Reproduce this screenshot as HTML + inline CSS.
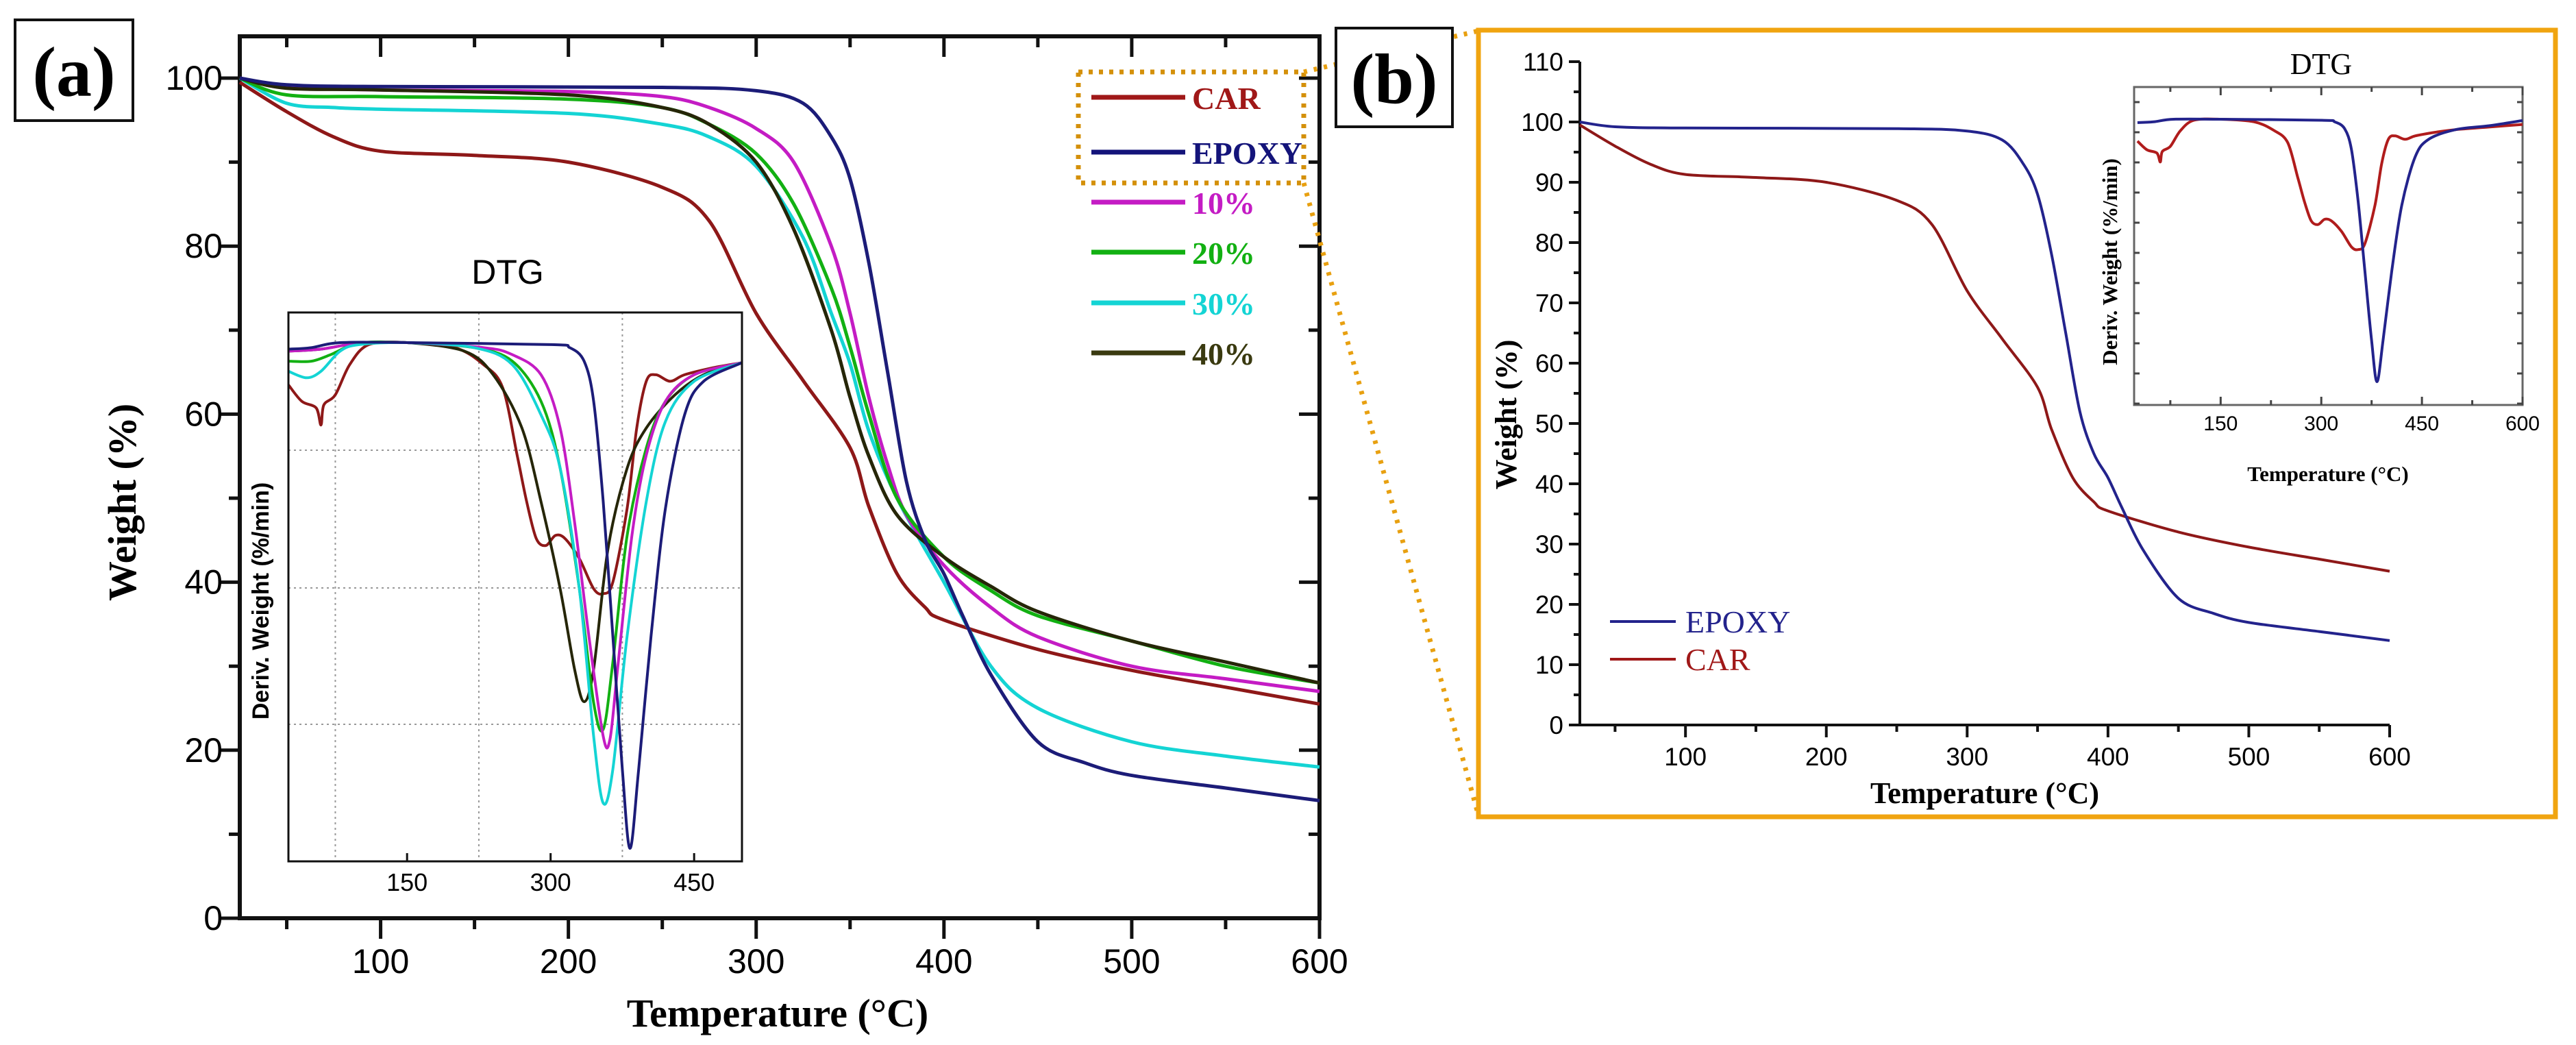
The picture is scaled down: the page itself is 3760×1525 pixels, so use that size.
<!DOCTYPE html>
<html><head><meta charset="utf-8"><style>
html,body{margin:0;padding:0;background:#fff;}
svg{display:block;}
.sans{font-family:"Liberation Sans",sans-serif;}
.serif{font-family:"Liberation Serif",serif;}
</style></head><body>
<svg id="fig" width="3760" height="1525" viewBox="0 0 3760 1525" xmlns="http://www.w3.org/2000/svg">
<rect x="0" y="0" width="3760" height="1525" fill="#fff"/>
<g id="ga"></g>
<g id="gb"></g>
</svg>
<script>
// ---- data ----
const tgaTemps = {
  car:   [25,50,75,100,150,200,250,275,300,325,350,360,375,390,400,450,500,550,600],
  epoxy: [25,50,100,250,300,325,340,350,360,370,380,390,400,410,425,450,475,500,550,600],
  p10:   [25,50,100,200,250,275,300,320,340,350,360,370,380,400,425,450,500,550,600],
  p20:   [25,50,100,200,250,275,300,320,340,350,360,375,400,425,450,500,550,600],
  p30:   [25,50,75,100,200,250,275,300,325,340,350,360,375,400,425,450,500,550,600],
  p40:   [25,50,100,200,250,275,300,320,340,350,360,375,400,425,450,500,550,600]
};
const tgaCar   = [99.5,96,93,91.3,90.8,90,87,83,72,64,56,49,41,37,35.5,32,29.5,27.5,25.5];
const tgaEpoxy = [100,99.2,99,98.9,98.5,97,93,88,78,65,52,45,41,36,29,21,18.5,17,15.5,14];
const tga10    = [100,99,98.6,98.4,97.8,96.5,94,90,80,72,62,54,48,42,37,33.5,30,28.5,27];
const tga20    = [100,98,97.8,97.5,96.5,94.5,91,85,75,68,60,50,43,39,36,33,30,28];
const tga30    = [100,97,96.5,96.3,95.8,94.5,93,89.5,81,72,66,58,50,40,30,25,21,19.3,18];
const tga40    = [100,98.8,98.6,98,96.5,94.5,90,82,70,62,55,48,43,39.5,36.5,33,30.5,28];

const dtgTemps = {
  car:   [26,40,55,60,63,75,90,110,150,200,230,250,265,275,285,295,305,315,330,345,355,365,380,390,400,410,425,440,470,500,550,600],
  epoxy: [26,50,80,150,300,320,335,345,355,365,375,383,392,405,420,440,460,500,550,600],
  p10:   [26,60,100,150,230,260,290,310,325,340,355,362,370,385,400,420,450,500,550,600],
  p20:   [26,50,70,100,150,220,260,290,310,330,345,355,365,380,400,420,450,500,550,600],
  p30:   [26,45,60,80,100,150,220,260,290,310,330,345,355,365,380,400,420,450,500,550,600],
  p40:   [26,60,100,150,210,240,270,290,310,325,335,345,360,380,400,430,460,500,550,600]
};
const dtgCar   = [-8.4,-11.7,-13,-16.4,-12.4,-10.4,-4.4,-0.4,0,-1,-4.4,-9,-22.4,-31.7,-39,-40.4,-38.4,-39,-43,-49,-50,-47.7,-33,-17,-7.7,-6.4,-7.7,-6.4,-5,-4,-3,-2];
const dtgEpoxy = [-1.3,-1,0,0,-0.4,-1,-3.7,-11.7,-31.7,-58.4,-85,-100.7,-85,-58.4,-33,-14.4,-7.7,-4,-2.5,-0.5];
const dtg10    = [-1.7,-1.3,-0.1,0,-1,-2.4,-6.4,-17,-35.7,-58.4,-78.4,-79,-65,-38.4,-22.4,-11.7,-6.4,-4,-3,-2];
const dtg20    = [-3.7,-3.7,-2.4,-0.1,0,-1,-3.7,-11.7,-25,-49,-71.7,-77,-63.7,-38.4,-21,-11.7,-6.4,-4,-3,-2];
const dtg30    = [-5.7,-7,-5.7,-1.7,-0.4,0,-1,-4.4,-14.4,-25,-49,-78.4,-91.7,-85,-58.4,-31.7,-15.7,-7.7,-4,-3,-2];
const dtg40    = [-1.7,-1.3,-0.1,0,-1.7,-6.4,-17,-31.7,-49,-65,-71.5,-65,-41,-25,-17,-10.4,-6.4,-4,-3,-2];

const seriesNames = ['CAR','EPOXY','10%','20%','30%','40%'];
const xTicksA = [100,200,300,400,500,600];
const yTicksA = [0,20,40,60,80,100];
const xTicksB = [100,200,300,400,500,600];
const yTicksB = [0,10,20,30,40,50,60,70,80,90,100,110];
const insetTicksA = [150,300,450];
const insetTicksB = [150,300,450,600];

const colors = {car:'#8e1818',epoxy:'#1c1c78',p10:'#c41cc4',p20:'#12b012',p30:'#14d4d4',p40:'#262608'};
const legendColors = ['#a01818','#14147a','#c41cc4','#12b012','#14d4d4','#3a3a10'];

const NS='http://www.w3.org/2000/svg';
function mk(parent,tag,attrs,text){
  const e=document.createElementNS(NS,tag);
  for(const k in attrs) e.setAttribute(k,attrs[k]);
  if(text!==undefined) e.textContent=text;
  parent.appendChild(e); return e;
}
function lin(d0,d1,r0,r1){return v=>r0+(v-d0)/(d1-d0)*(r1-r0);}
function spline(xs,ys){
  let p='M'+xs[0].toFixed(1)+','+ys[0].toFixed(1);
  for(let i=0;i<xs.length-1;i++){
    const x0=xs[Math.max(i-1,0)],y0=ys[Math.max(i-1,0)];
    const x1=xs[i],y1=ys[i],x2=xs[i+1],y2=ys[i+1];
    const x3=xs[Math.min(i+2,xs.length-1)],y3=ys[Math.min(i+2,xs.length-1)];
    const t=0.16;
    p+=' C'+(x1+(x2-x0)*t).toFixed(1)+','+(y1+(y2-y0)*t).toFixed(1)+' '+(x2-(x3-x1)*t).toFixed(1)+','+(y2-(y3-y1)*t).toFixed(1)+' '+x2.toFixed(1)+','+y2.toFixed(1);
  }
  return p;
}
function curve(g,temps,vals,sx,sy,color,w,name,maxT){
  const xs=[],ys=[];
  for(let i=0;i<temps.length;i++){ if(maxT!==undefined && temps[i]>maxT) break; xs.push(sx(temps[i])); ys.push(sy(vals[i])); }
  const p=mk(g,'path',{d:spline(xs,ys),fill:'none',stroke:color,'stroke-width':w,'stroke-linejoin':'round'});
  
  
  return p;
}

// ================= PANEL A =================
const ga=document.getElementById('ga');
const axA={l:350,r:1926,t:53,b:1340};
const sxA=lin(25,600,axA.l,axA.r), syA=lin(0,100,1340,114);

let lb=mk(ga,'rect',{x:22,y:29,width:172,height:147,fill:'#fff',stroke:'#111','stroke-width':4});


let lt=mk(ga,'text',{x:108,y:140,'text-anchor':'middle','font-size':104,'font-weight':'bold',class:'serif'},'(a)');



// ticks
for(let v=50;v<=600;v+=50){
  const x=sxA(v), major=v%100===0;
  mk(ga,'line',{x1:x,y1:axA.b,x2:x,y2:axA.b+(major?30:16),stroke:'#111','stroke-width':5});
  mk(ga,'line',{x1:x,y1:axA.t,x2:x,y2:axA.t+(major?30:16),stroke:'#111','stroke-width':5});
}
for(let v=10;v<=100;v+=10){
  const y=syA(v), major=v%20===0;
  mk(ga,'line',{x1:axA.l,y1:y,x2:axA.l-(major?30:16),y2:y,stroke:'#111','stroke-width':5});
  mk(ga,'line',{x1:axA.r,y1:y,x2:axA.r-(major?30:16),y2:y,stroke:'#111','stroke-width':5});
}
mk(ga,'line',{x1:axA.l-30,y1:syA(0),x2:axA.l,y2:syA(0),stroke:'#111','stroke-width':5});
let frA=mk(ga,'rect',{x:axA.l,y:axA.t,width:axA.r-axA.l,height:axA.b-axA.t,fill:'none',stroke:'#111','stroke-width':6});


xTicksA.forEach(v=>{
  const t=mk(ga,'text',{x:sxA(v),y:1420,'text-anchor':'middle','font-size':50,class:'sans'},String(v));
  
  
});
yTicksA.forEach(v=>{
  const t=mk(ga,'text',{x:325,y:syA(v)+17,'text-anchor':'end','font-size':50,class:'sans'},String(v));
  
  
});
let xtA=mk(ga,'text',{x:1135,y:1498,'text-anchor':'middle','font-size':58,'font-weight':'bold',class:'serif'},'Temperature (°C)');


let ytA=mk(ga,'text',{x:0,y:0,'text-anchor':'middle','font-size':58,'font-weight':'bold',class:'serif',transform:'translate(198,733) rotate(-90)'},'Weight (%)');



// main TGA curves
curve(ga,tgaTemps.car,tgaCar,sxA,syA,colors.car,5,'tga-car-a');
curve(ga,tgaTemps.p30,tga30,sxA,syA,colors.p30,5,'tga-30-a');
curve(ga,tgaTemps.p10,tga10,sxA,syA,colors.p10,5,'tga-10-a');
curve(ga,tgaTemps.p20,tga20,sxA,syA,colors.p20,5,'tga-20-a');
curve(ga,tgaTemps.p40,tga40,sxA,syA,colors.p40,5,'tga-40-a');
curve(ga,tgaTemps.epoxy,tgaEpoxy,sxA,syA,colors.epoxy,5,'tga-epoxy-a');

// legend
const legY=[142,222,295,368,442,515];
seriesNames.forEach((n,i)=>{
  const l=mk(ga,'line',{x1:1593,y1:legY[i],x2:1730,y2:legY[i],stroke:legendColors[i],'stroke-width':7});
  
  
  const t=mk(ga,'text',{x:1740,y:legY[i]+17,'font-size':46,'font-weight':'bold',fill:legendColors[i],class:'serif'},n);
  
  
});
let hb=mk(ga,'rect',{x:1574,y:105,width:329,height:162,fill:'none',stroke:'#d4900a','stroke-width':7,'stroke-dasharray':'6 9'});



// inset A
const inA={l:421,r:1083,t:456,b:1257};
const sxIA=lin(26,500,inA.l,inA.r), syIA=lin(0,-100.7,500,1238);
let ibg=mk(ga,'rect',{x:inA.l,y:inA.t,width:inA.r-inA.l,height:inA.b-inA.t,fill:'#fff'});
[75,225,375].forEach(v=>mk(ga,'line',{x1:sxIA(v),y1:inA.t,x2:sxIA(v),y2:inA.b,stroke:'#999','stroke-width':2,'stroke-dasharray':'3 5'}));
[657,858,1057].forEach(y=>mk(ga,'line',{x1:inA.l,y1:y,x2:inA.r,y2:y,stroke:'#999','stroke-width':2,'stroke-dasharray':'3 5'}));
const clipA=mk(document.getElementById('fig'),'clipPath',{id:'clipA'});
mk(clipA,'rect',{x:inA.l,y:inA.t,width:inA.r-inA.l,height:inA.b-inA.t});
const gIA=mk(ga,'g',{'clip-path':'url(#clipA)'});


curve(gIA,dtgTemps.car,dtgCar,sxIA,syIA,colors.car,4,'dtg-car-a',500);
curve(gIA,dtgTemps.p40,dtg40,sxIA,syIA,colors.p40,4,'dtg-40-a',500);
curve(gIA,dtgTemps.p20,dtg20,sxIA,syIA,colors.p20,4,'dtg-20-a',500);
curve(gIA,dtgTemps.p10,dtg10,sxIA,syIA,colors.p10,4,'dtg-10-a',500);
curve(gIA,dtgTemps.p30,dtg30,sxIA,syIA,colors.p30,4,'dtg-30-a',500);
curve(gIA,dtgTemps.epoxy,dtgEpoxy,sxIA,syIA,colors.epoxy,4,'dtg-epoxy-a',500);
let ifr=mk(ga,'rect',{x:inA.l,y:inA.t,width:inA.r-inA.l,height:inA.b-inA.t,fill:'none',stroke:'#111','stroke-width':3});


insetTicksA.forEach(v=>{
  mk(ga,'line',{x1:sxIA(v),y1:inA.b,x2:sxIA(v),y2:inA.b-12,stroke:'#111','stroke-width':3});
  const t=mk(ga,'text',{x:sxIA(v),y:1300,'text-anchor':'middle','font-size':36,class:'sans'},String(v));
  
  
});
let dA=mk(ga,'text',{x:741,y:414,'text-anchor':'middle','font-size':50,class:'sans'},'DTG');


let dyA=mk(ga,'text',{x:0,y:0,'text-anchor':'middle','font-size':34,'font-weight':'bold',class:'sans',transform:'translate(392,877) rotate(-90)'},'Deriv. Weight (%/min)');



// connector dotted lines
let c1=mk(ga,'line',{x1:1903,y1:105,x2:2158,y2:45,stroke:'#e8a010','stroke-width':7,'stroke-dasharray':'5 10'});


let c2=mk(ga,'line',{x1:1903,y1:267,x2:2158,y2:1190,stroke:'#e8a010','stroke-width':7,'stroke-dasharray':'5 10'});



// ================= PANEL B =================
const gb=document.getElementById('gb');
let lbb=mk(gb,'rect',{x:1950,y:41,width:170,height:144,fill:'#fff',stroke:'#111','stroke-width':4});


let ltb=mk(gb,'text',{x:2035,y:150,'text-anchor':'middle','font-size':104,'font-weight':'bold',class:'serif'},'(b)');


let ob=mk(gb,'rect',{x:2158,y:44,width:1572,height:1148,fill:'#fff',stroke:'#f0a410','stroke-width':7});



const axB={l:2306,r:3488,t:90,b:1058};
const sxB=lin(25,600,axB.l,axB.r), syB=lin(0,110,1058,90);
mk(gb,'line',{x1:axB.l,y1:axB.t,x2:axB.l,y2:axB.b,stroke:'#111','stroke-width':4});
mk(gb,'line',{x1:axB.l,y1:axB.b,x2:axB.r,y2:axB.b,stroke:'#111','stroke-width':4});
for(let v=50;v<=600;v+=50){
  const major=v%100===0;
  mk(gb,'line',{x1:sxB(v),y1:axB.b,x2:sxB(v),y2:axB.b+(major?18:10),stroke:'#111','stroke-width':4});
}
for(let v=0;v<=110;v+=5){
  const major=v%10===0;
  mk(gb,'line',{x1:axB.l,y1:syB(v),x2:axB.l-(major?16:9),y2:syB(v),stroke:'#111','stroke-width':4});
}
xTicksB.forEach(v=>{
  const t=mk(gb,'text',{x:sxB(v),y:1117,'text-anchor':'middle','font-size':37,class:'sans'},String(v));
  
  
});
yTicksB.forEach(v=>{
  const t=mk(gb,'text',{x:2282,y:syB(v)+13,'text-anchor':'end','font-size':37,class:'sans'},String(v));
  
  
});
let xtB=mk(gb,'text',{x:2897,y:1172,'text-anchor':'middle','font-size':44,'font-weight':'bold',class:'serif'},'Temperature (°C)');


let ytB=mk(gb,'text',{x:0,y:0,'text-anchor':'middle','font-size':44,'font-weight':'bold',class:'serif',transform:'translate(2213,605) rotate(-90)'},'Weight (%)');



curve(gb,tgaTemps.car,tgaCar,sxB,syB,colors.car,4,'tga-car-b');
curve(gb,tgaTemps.epoxy,tgaEpoxy,sxB,syB,'#23238c',4,'tga-epoxy-b');

[['EPOXY','#23238c',907],['CAR','#a01818',962]].forEach(([n,c,y])=>{
  const l=mk(gb,'line',{x1:2350,y1:y,x2:2446,y2:y,stroke:c,'stroke-width':4});
  
  
  const t=mk(gb,'text',{x:2460,y:y+16,'font-size':46,fill:c,class:'serif'},n);
  
  
});

// inset B
const inB={l:3115,r:3682,t:127,b:591};
const sxIB=lin(21,600,inB.l,inB.r), syIB=lin(0,-100.7,174,557);
let ifb=mk(gb,'rect',{x:inB.l,y:inB.t,width:inB.r-inB.l,height:inB.b-inB.t,fill:'none',stroke:'#666','stroke-width':3});


for(let v=75;v<=600;v+=75){
  mk(gb,'line',{x1:sxIB(v),y1:inB.b,x2:sxIB(v),y2:inB.b-(v%150===0?12:7),stroke:'#444','stroke-width':3});
  mk(gb,'line',{x1:sxIB(v),y1:inB.t,x2:sxIB(v),y2:inB.t+(v%150===0?12:7),stroke:'#444','stroke-width':3});
}
for(let y=inB.t+22;y<inB.b;y+=44){
  mk(gb,'line',{x1:inB.l,y1:y,x2:inB.l+8,y2:y,stroke:'#444','stroke-width':3});
  mk(gb,'line',{x1:inB.r,y1:y,x2:inB.r-8,y2:y,stroke:'#444','stroke-width':3});
}
curve(gb,dtgTemps.car,dtgCar,sxIB,syIB,'#b01c1c',4,'dtg-car-b');
curve(gb,dtgTemps.epoxy,dtgEpoxy,sxIB,syIB,'#23238c',4,'dtg-epoxy-b');
insetTicksB.forEach(v=>{
  const t=mk(gb,'text',{x:sxIB(v),y:628,'text-anchor':'middle','font-size':30,class:'sans'},String(v));
  
  
});
let dB=mk(gb,'text',{x:3388,y:108,'text-anchor':'middle','font-size':44,class:'serif'},'DTG');


let xtIB=mk(gb,'text',{x:3398,y:702,'text-anchor':'middle','font-size':31,'font-weight':'bold',class:'serif'},'Temperature (°C)');


let dyB=mk(gb,'text',{x:0,y:0,'text-anchor':'middle','font-size':31,'font-weight':'bold',class:'serif',transform:'translate(3090,382) rotate(-90)'},'Deriv. Weight (%/min)');


</script>
</body></html>
